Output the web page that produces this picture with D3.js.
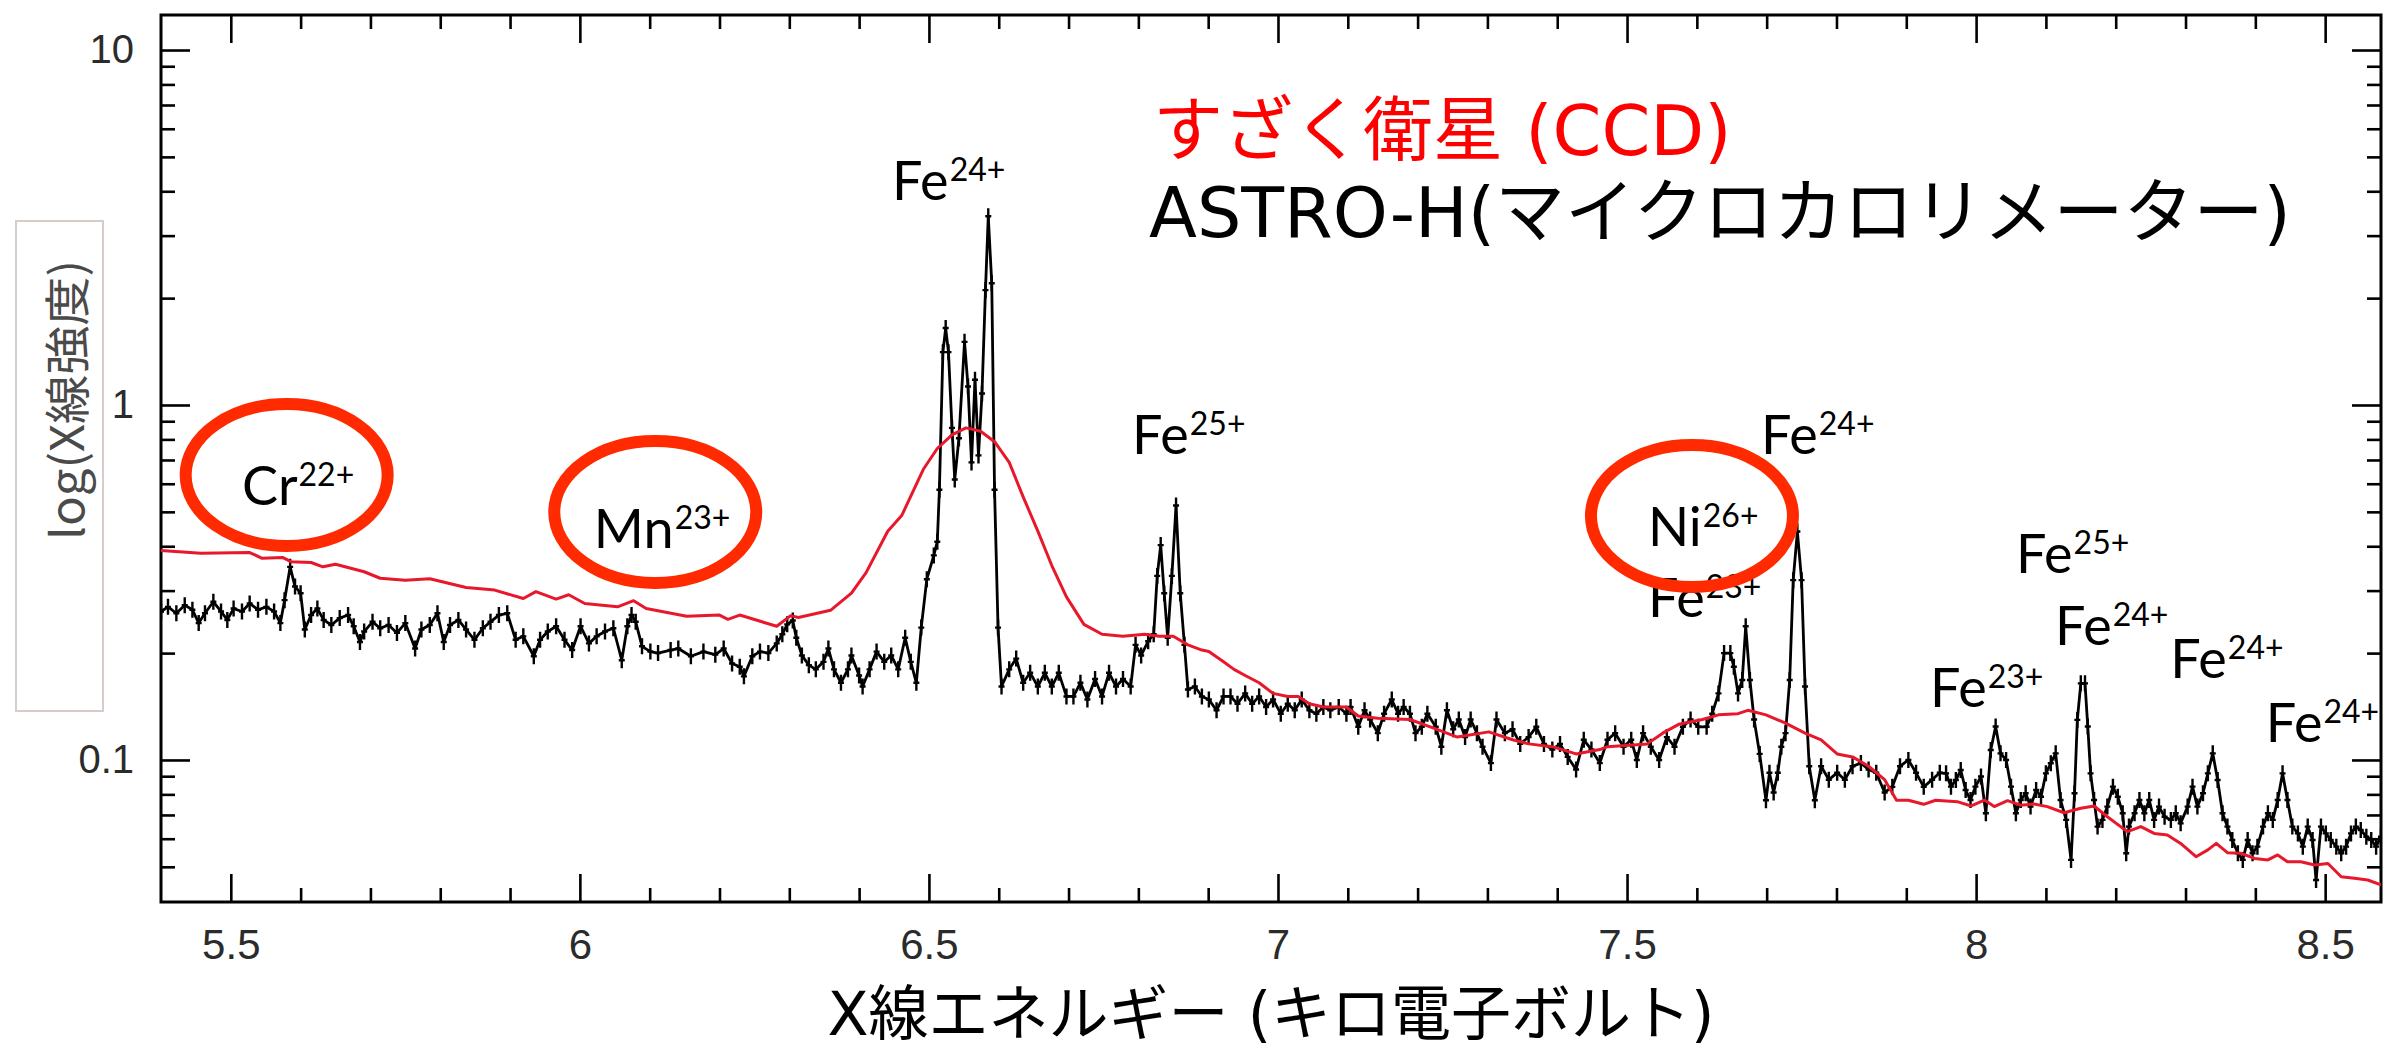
<!DOCTYPE html>
<html>
<head>
<meta charset="utf-8">
<script src="https://cdn.jsdelivr.net/npm/d3@7"></script>
<style>
  html, body { margin: 0; padding: 0; background: #fff; }
  svg { display: block; }
</style>
</head>
<body>
<svg id="chart" width="2395" height="1058"></svg>
<script>
// ASTRO-H microcalorimeter spectrum: photon energy (keV) and intensity
const sxsEnergy = [
  5.400,5.410,5.422,5.434,5.445,5.454,5.463,5.475,5.486,5.495,5.504,5.516,5.527,5.539,5.551,5.562,5.571,5.577,5.585,5.592,
  5.600,5.606,5.615,5.624,5.633,5.644,5.656,5.668,5.676,5.685,5.691,5.703,5.714,5.726,5.738,5.750,5.764,5.773,5.785,5.796,
  5.805,5.814,5.826,5.837,5.849,5.861,5.872,5.884,5.896,5.908,5.919,5.934,5.943,5.954,5.966,5.978,5.989,6.001,6.013,6.024,
  6.036,6.048,6.060,6.068,6.074,6.080,6.089,6.101,6.112,6.130,6.141,6.159,6.177,6.194,6.206,6.218,6.229,6.235,6.247,6.258,
  6.270,6.282,6.290,6.297,6.305,6.310,6.318,6.328,6.338,6.349,6.356,6.364,6.374,6.384,6.389,6.400,6.405,6.415,6.425,6.436,
  6.446,6.456,6.466,6.474,6.482,6.489,6.497,6.507,6.512,6.515,6.520,6.524,6.528,6.533,6.537,6.543,6.551,6.556,6.561,6.566,
  6.571,6.576,6.581,6.585,6.590,6.594,6.599,6.604,6.615,6.625,6.635,6.645,6.656,6.666,6.676,6.686,6.697,6.707,6.717,6.727,
  6.738,6.748,6.758,6.768,6.778,6.789,6.796,6.804,6.814,6.822,6.827,6.832,6.837,6.842,6.848,6.854,6.860,6.866,6.871,6.881,
  6.891,6.901,6.912,6.922,6.932,6.942,6.953,6.963,6.973,6.983,6.993,7.004,7.014,7.024,7.034,7.045,7.055,7.065,7.075,7.087,
  7.098,7.104,7.115,7.124,7.132,7.143,7.152,7.163,7.172,7.180,7.189,7.197,7.206,7.214,7.226,7.234,7.242,7.251,7.259,7.268,
  7.276,7.285,7.293,7.305,7.313,7.325,7.336,7.347,7.359,7.370,7.381,7.393,7.404,7.415,7.427,7.438,7.449,7.461,7.472,7.483,
  7.495,7.506,7.514,7.523,7.534,7.546,7.557,7.568,7.580,7.591,7.602,7.614,7.622,7.631,7.639,7.648,7.653,7.659,7.665,7.670,
  7.676,7.682,7.690,7.699,7.704,7.710,7.716,7.721,7.727,7.733,7.738,7.744,7.750,7.755,7.761,7.769,7.778,7.789,7.801,7.812,
  7.823,7.835,7.846,7.857,7.869,7.880,7.891,7.903,7.914,7.925,7.937,7.948,7.957,7.964,7.971,7.978,7.985,7.992,7.999,8.007,
  8.014,8.021,8.028,8.035,8.043,8.050,8.057,8.064,8.071,8.078,8.086,8.093,8.100,8.107,8.114,8.121,8.129,8.136,8.141,8.145,
  8.150,8.156,8.160,8.164,8.169,8.174,8.181,8.188,8.196,8.203,8.210,8.215,8.219,8.227,8.234,8.241,8.248,8.255,8.262,8.270,
  8.279,8.286,8.293,8.303,8.310,8.317,8.325,8.332,8.339,8.346,8.353,8.360,8.367,8.375,8.382,8.389,8.396,8.403,8.411,8.418,
  8.425,8.432,8.439,8.446,8.453,8.461,8.468,8.475,8.482,8.487,8.494,8.501,8.508,8.516,8.523,8.530,8.537,8.544,8.551,8.559,
  8.566,8.573,8.580
];
const sxsRate = [
  0.262,0.270,0.259,0.273,0.265,0.243,0.259,0.279,0.262,0.248,0.267,0.262,0.276,0.265,0.270,0.262,0.243,0.282,0.350,0.308,
  0.295,0.233,0.256,0.267,0.248,0.240,0.251,0.256,0.238,0.215,0.230,0.245,0.235,0.240,0.228,0.243,0.206,0.233,0.240,0.259,
  0.215,0.240,0.248,0.233,0.218,0.235,0.245,0.256,0.259,0.218,0.223,0.196,0.218,0.230,0.238,0.218,0.204,0.238,0.213,0.223,
  0.230,0.235,0.191,0.238,0.256,0.245,0.209,0.202,0.200,0.204,0.206,0.196,0.202,0.198,0.206,0.187,0.183,0.172,0.196,0.202,
  0.200,0.213,0.226,0.241,0.247,0.221,0.197,0.185,0.180,0.189,0.206,0.180,0.165,0.180,0.197,0.173,0.161,0.180,0.202,0.189,
  0.197,0.180,0.221,0.189,0.165,0.236,0.323,0.377,0.412,0.577,1.409,1.647,1.409,0.862,0.617,0.806,1.506,1.127,0.689,1.178,
  0.721,1.077,2.106,3.403,2.202,0.577,0.236,0.161,0.180,0.193,0.165,0.176,0.161,0.176,0.161,0.176,0.151,0.151,0.165,0.148,
  0.169,0.151,0.176,0.161,0.169,0.161,0.211,0.197,0.216,0.226,0.330,0.403,0.295,0.221,0.330,0.521,0.295,0.211,0.158,0.161,
  0.151,0.148,0.138,0.151,0.151,0.144,0.154,0.144,0.151,0.141,0.148,0.135,0.144,0.138,0.148,0.138,0.135,0.141,0.138,0.141,
  0.135,0.141,0.124,0.138,0.130,0.119,0.135,0.148,0.135,0.141,0.135,0.119,0.124,0.135,0.124,0.109,0.138,0.122,0.130,0.116,
  0.130,0.119,0.109,0.098,0.130,0.119,0.122,0.111,0.116,0.124,0.111,0.107,0.111,0.102,0.094,0.114,0.107,0.098,0.114,0.119,
  0.109,0.114,0.100,0.119,0.109,0.100,0.116,0.109,0.124,0.130,0.124,0.124,0.135,0.154,0.200,0.200,0.183,0.154,0.168,0.238,
  0.168,0.130,0.104,0.077,0.092,0.081,0.092,0.109,0.119,0.168,0.321,0.440,0.321,0.161,0.096,0.077,0.096,0.088,0.092,0.088,
  0.096,0.098,0.094,0.092,0.081,0.084,0.096,0.100,0.092,0.084,0.088,0.092,0.0917,0.0841,0.0878,0.0937,0.0823,0.0771,0.0841,0.0898,
  0.0708,0.1067,0.1242,0.1044,0.1000,0.0841,0.0708,0.0771,0.0806,0.0739,0.0823,0.0788,0.0917,0.0979,0.1044,0.0771,0.0678,0.0523,0.0806,0.1297,
  0.1644,0.1644,0.1242,0.0917,0.0771,0.0649,0.0678,0.0739,0.0841,0.0788,0.0708,0.0546,0.0649,0.0708,0.0771,0.0708,0.0771,0.0678,0.0739,0.0692,
  0.0678,0.0708,0.0663,0.0739,0.0841,0.0739,0.0806,0.0917,0.1044,0.0878,0.0708,0.0649,0.0595,0.0546,0.0523,0.0595,0.0546,0.0570,0.0649,0.0708,
  0.0678,0.0771,0.0917,0.0771,0.0649,0.0621,0.0570,0.0649,0.0595,0.0459,0.0649,0.0621,0.0595,0.0570,0.0546,0.0570,0.0621,0.0649,0.0635,0.0608,
  0.0595,0.0570,0.0608
];

// Suzaku CCD spectrum: photon energy (keV) and intensity
const xisEnergy = [
  5.400,5.457,5.527,5.545,5.574,5.586,5.615,5.632,5.650,5.691,5.714,5.750,5.785,5.837,5.878,5.919,5.937,5.966,5.984,6.007,
  6.054,6.077,6.095,6.153,6.200,6.212,6.229,6.282,6.302,6.313,6.359,6.389,6.410,6.441,6.461,6.492,6.512,6.533,6.553,6.574,
  6.594,6.615,6.635,6.656,6.676,6.697,6.722,6.748,6.778,6.809,6.830,6.850,6.871,6.891,6.901,6.922,6.937,6.953,6.973,6.993,
  7.014,7.029,7.045,7.065,7.098,7.115,7.143,7.189,7.223,7.257,7.302,7.336,7.359,7.393,7.427,7.461,7.472,7.529,7.551,7.574,
  7.608,7.631,7.659,7.673,7.699,7.727,7.755,7.778,7.801,7.823,7.846,7.869,7.886,7.903,7.925,7.942,7.973,7.993,8.012,8.026,
  8.045,8.064,8.083,8.102,8.126,8.150,8.169,8.188,8.207,8.217,8.236,8.255,8.274,8.293,8.315,8.332,8.344,8.360,8.379,8.399,
  8.418,8.432,8.446,8.465,8.485,8.504,8.523,8.542,8.561,8.580
];
const xisRate = [
  0.389,0.382,0.384,0.370,0.372,0.362,0.360,0.350,0.356,0.339,0.325,0.321,0.324,0.306,0.301,0.285,0.298,0.284,0.292,0.276,
  0.270,0.281,0.267,0.254,0.256,0.249,0.256,0.238,0.255,0.252,0.264,0.295,0.337,0.441,0.488,0.659,0.754,0.824,0.862,0.843,
  0.788,0.689,0.551,0.441,0.353,0.288,0.241,0.226,0.223,0.226,0.223,0.223,0.211,0.204,0.202,0.189,0.180,0.173,0.165,0.154,
  0.151,0.151,0.144,0.141,0.141,0.133,0.131,0.130,0.123,0.116,0.120,0.114,0.111,0.109,0.104,0.107,0.109,0.111,0.119,0.126,
  0.130,0.134,0.135,0.138,0.134,0.127,0.119,0.114,0.104,0.102,0.096,0.088,0.077,0.077,0.075,0.077,0.0763,0.0742,0.0771,0.0739,
  0.0768,0.0746,0.0752,0.0739,0.0710,0.0731,0.0742,0.0692,0.0649,0.0628,0.0649,0.0621,0.0615,0.0582,0.0534,0.0558,0.0582,0.0548,0.0546,0.0528,
  0.0523,0.0540,0.0517,0.0517,0.0506,0.0511,0.0469,0.0464,0.0459,0.0445
];

// Axis ticks
const xMajorTicks = [5.5, 6, 6.5, 7, 7.5, 8, 8.5];
const xMajorLabels = ["5.5", "6", "6.5", "7", "7.5", "8", "8.5"];
const xMinorTicks = [5.6,5.7,5.8,5.9,6.1,6.2,6.3,6.4,6.6,6.7,6.8,6.9,7.1,7.2,7.3,7.4,7.6,7.7,7.8,7.9,8.1,8.2,8.3,8.4];
const yMajorTicks = [0.1, 1, 10];
const yMajorLabels = ["0.1", "1", "10"];
const yMinorTicks = [0.05,0.06,0.07,0.08,0.09,0.2,0.3,0.4,0.5,0.6,0.7,0.8,0.9,2,3,4,5,6,7,8,9];

// Ion line identifications (anchor: energy, intensity)
const ionElement = ["Fe", "Fe", "Fe", "Ni", "Fe", "Fe", "Fe", "Fe", "Fe", "Fe", "Cr", "Mn"];
const ionCharge  = ["24+", "25+", "24+", "26+", "23+", "25+", "24+", "23+", "24+", "24+", "22+", "23+"];
const ionEnergy  = [6.447, 6.791, 7.692, 7.530, 7.530, 8.057, 8.113, 7.934, 8.278, 8.415, 5.516, 6.020];
const ionLevel   = [3.78, 0.728, 0.728, 0.401, 0.253, 0.336, 0.211, 0.141, 0.170, 0.112, 0.523, 0.396];

// Highlighted weak lines (ellipse centres)
const ringEnergy = [5.580, 6.108, 7.593];
const ringLevel  = [0.635, 0.4995, 0.487];

const plot = { left: 161, right: 2381, top: 15, bottom: 902 };

const svg = d3.select("#chart");

const x = d3.scaleLinear().domain([5.4, 8.58]).range([plot.left, plot.right]);
const y = d3.scaleLog().domain([0.0398, 12.55]).range([plot.bottom, plot.top]);

svg.append("defs").append("clipPath").attr("id", "plotClip")
  .append("rect")
  .attr("x", plot.left).attr("y", plot.top)
  .attr("width", plot.right - plot.left).attr("height", plot.bottom - plot.top);

// Axes: inward major and minor ticks on all four sides
function styleAxis(g) {
  g.select(".domain").remove();
  g.selectAll(".tick line").attr("stroke", "#000").attr("stroke-width", 2.6);
  g.selectAll(".tick text")
    .attr("fill", "#2b2b2b")
    .attr("font-family", "'Liberation Sans', Arial, sans-serif");
}

const xFmt = (d) => xMajorLabels[xMajorTicks.indexOf(d)];
const yFmt = (d) => yMajorLabels[yMajorTicks.indexOf(d)];

svg.append("g").attr("transform", `translate(0,${plot.bottom})`)
  .call(d3.axisBottom(x).tickValues(xMajorTicks).tickFormat(xFmt).tickSizeInner(-28).tickSizeOuter(0).tickPadding(27))
  .call(styleAxis)
  .call(g => g.selectAll(".tick text").attr("font-size", 42));
svg.append("g").attr("transform", `translate(0,${plot.bottom})`)
  .call(d3.axisBottom(x).tickValues(xMinorTicks).tickFormat("").tickSizeInner(-14).tickSizeOuter(0))
  .call(styleAxis);
svg.append("g").attr("transform", `translate(0,${plot.top})`)
  .call(d3.axisTop(x).tickValues(xMajorTicks).tickFormat("").tickSizeInner(-28).tickSizeOuter(0))
  .call(styleAxis);
svg.append("g").attr("transform", `translate(0,${plot.top})`)
  .call(d3.axisTop(x).tickValues(xMinorTicks).tickFormat("").tickSizeInner(-14).tickSizeOuter(0))
  .call(styleAxis);

svg.append("g").attr("transform", `translate(${plot.left},0)`)
  .call(d3.axisLeft(y).tickValues(yMajorTicks).tickFormat(yFmt).tickSizeInner(-29).tickSizeOuter(0).tickPadding(27))
  .call(styleAxis)
  .call(g => g.selectAll(".tick text").attr("font-size", 40));
svg.append("g").attr("transform", `translate(${plot.left},0)`)
  .call(d3.axisLeft(y).tickValues(yMinorTicks).tickFormat("").tickSizeInner(-14).tickSizeOuter(0))
  .call(styleAxis);
svg.append("g").attr("transform", `translate(${plot.right},0)`)
  .call(d3.axisRight(y).tickValues(yMajorTicks).tickFormat("").tickSizeInner(-29).tickSizeOuter(0))
  .call(styleAxis);
svg.append("g").attr("transform", `translate(${plot.right},0)`)
  .call(d3.axisRight(y).tickValues(yMinorTicks).tickFormat("").tickSizeInner(-14).tickSizeOuter(0))
  .call(styleAxis);

// Frame
svg.append("rect")
  .attr("x", plot.left).attr("y", plot.top)
  .attr("width", plot.right - plot.left).attr("height", plot.bottom - plot.top)
  .attr("fill", "none").attr("stroke", "#000").attr("stroke-width", 3);

// Spectra
const data = svg.append("g").attr("clip-path", "url(#plotClip)");

const sxs = sxsEnergy.map((e, i) => [e, sxsRate[i]]);
const xis = xisEnergy.map((e, i) => [e, xisRate[i]]);
const line = d3.line().x(d => x(d[0])).y(d => y(d[1]));

data.append("path").datum(sxs)
  .attr("d", line)
  .attr("fill", "none").attr("stroke", "#000").attr("stroke-width", 2.8)
  .attr("stroke-linejoin", "round");

// error-bar crosses on each microcalorimeter bin
data.append("g").selectAll("path").data(sxs).join("path")
  .attr("d", d => {
    const px = x(d[0]), py = y(d[1]);
    return `M${px},${py - 8}V${py + 8}M${px - 3},${py}H${px + 3}`;
  })
  .attr("stroke", "#000").attr("stroke-width", 2.4);

data.append("path").datum(xis)
  .attr("d", line)
  .attr("fill", "none").attr("stroke", "#e8182c").attr("stroke-width", 3)
  .attr("stroke-linejoin", "round");

// Ion labels
const ionG = svg.append("g")
  .attr("font-family", "Lato, 'Open Sans', sans-serif")
  .attr("fill", "#000");
ionElement.forEach((el, i) => {
  const t = ionG.append("text")
    .attr("x", x(ionEnergy[i]))
    .attr("y", y(ionLevel[i]))
    .attr("font-size", 54);
  t.append("tspan").text(el);
  t.append("tspan").attr("dy", -19).attr("dx", 1).attr("font-size", 32).text(ionCharge[i]);
});

// Rings around the weak lines
svg.append("g").selectAll("ellipse")
  .data(ringEnergy.map((e, i) => [e, ringLevel[i]]))
  .join("ellipse")
  .attr("cx", d => x(d[0])).attr("cy", d => y(d[1]))
  .attr("rx", 101).attr("ry", 71)
  .attr("fill", "none").attr("stroke", "#ff2a00").attr("stroke-width", 12);

// Instrument captions
const capFont = "'DejaVu Sans', 'Noto Sans CJK JP', sans-serif";
svg.append("text")
  .attr("x", 1153).attr("y", 155)
  .attr("font-family", capFont).attr("font-size", 70)
  .attr("fill", "#ff0000")
  .text("すざく衛星 (CCD)");
svg.append("text")
  .attr("x", 1149).attr("y", 237)
  .attr("font-family", capFont).attr("font-size", 70)
  .attr("fill", "#000")
  .text("ASTRO-H(マイクロカロリメーター)");

// X axis title
svg.append("text")
  .attr("x", (plot.left + plot.right) / 2).attr("y", 1035)
  .attr("text-anchor", "middle")
  .attr("font-family", capFont).attr("font-size", 60)
  .attr("fill", "#000")
  .text("X線エネルギー (キロ電子ボルト)");

// Y axis title in its box
svg.append("rect")
  .attr("x", 16).attr("y", 221).attr("width", 87).attr("height", 490)
  .attr("fill", "#fff").attr("stroke", "#d6cdc9").attr("stroke-width", 2);
svg.append("text")
  .attr("transform", "translate(64,400) rotate(-90)")
  .attr("text-anchor", "middle")
  .attr("dominant-baseline", "central")
  .attr("font-family", "'Noto Sans CJK JP', sans-serif")
  .attr("font-size", 46)
  .attr("textLength", 280)
  .attr("lengthAdjust", "spacingAndGlyphs")
  .attr("fill", "#4a4a4a")
  .text("log(X線強度)");
</script>
</body>
</html>
